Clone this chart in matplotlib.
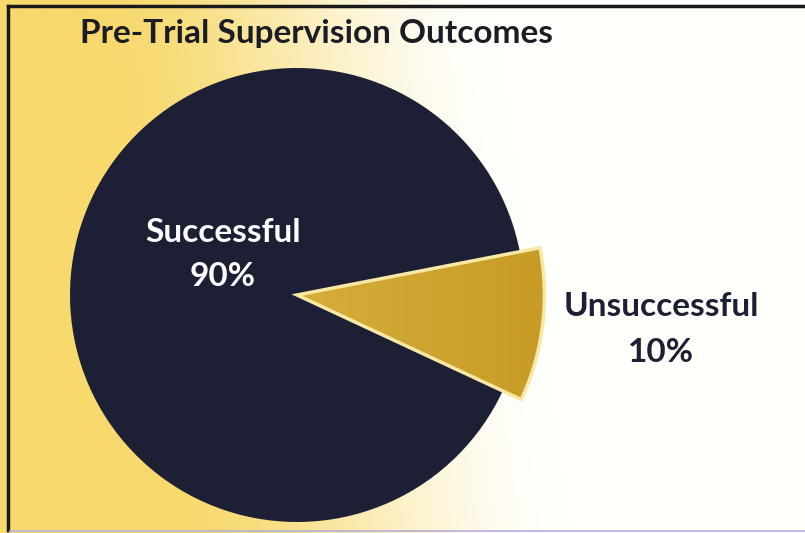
import numpy as np
import matplotlib.pyplot as plt

labels = ['Successful', 'Unsuccessful']
shares = [90, 10]
colors = ['#1d2034', '#cfa532']

W, H = 805, 533
fig = plt.figure(figsize=(W / 100, H / 100), dpi=100)
ax = fig.add_axes([0, 0, 1, 1])

# background: yellow on the left fading to white on the right
px, py = np.meshgrid(np.arange(W), np.arange(H))
u = px + 0.15 * (H - py)
f = np.clip((u - 170) / 400, 0, 1)
f = (f * f * (3 - 2 * f))[..., None]
yellow = np.array([247, 217, 110]) / 255
white = np.array([255, 255, 252]) / 255
bg = yellow * (1 - f) + white * f
ax.imshow(bg, extent=(0, W, 0, H), origin='upper', zorder=0, aspect='auto')

# frame lines (scan border)
ax.plot([8, 8], [3, H - 6], color='#1a1a1a', lw=2.5, zorder=5)
ax.plot([8, W], [H - 6, H - 6], color='#1a1a1a', lw=2.5, zorder=5)
ax.plot([10, W], [2, 2], color='#b4b0d8', lw=1.2, zorder=5)

cx, cy, r = 297, H - 295, 227
wedges, _ = ax.pie(shares, colors=colors, startangle=11, counterclock=True,
                   center=(cx, cy), radius=r, frame=True)
wedges[0].set_zorder(2)
gold = wedges[1]
gold.set_radius(r * 1.09)
gold.set_facecolor('none')
gold.set_edgecolor('#f7e8a6')
gold.set_linewidth(2.5)
gold.set_zorder(4)

# gold wedge shading: a touch lighter near the centre, deeper at the rim
gx, gy = np.meshgrid(np.linspace(0, 1, 200), np.linspace(0, 1, 200))
light = np.array([214, 174, 58]) / 255
deep = np.array([199, 155, 38]) / 255
gimg = light * (1 - gx[..., None]) + deep * gx[..., None]
im = ax.imshow(gimg, extent=(cx, cx + r * 1.1, cy - r * 0.5, cy + r * 0.3),
               origin='upper', zorder=3, aspect='auto')
im.set_clip_path(gold)

ax.set_xlim(0, W)
ax.set_ylim(0, H)
ax.set_axis_off()

font = 'Lato'
ax.text(80, H - 33, 'Pre-Trial Supervision Outcomes', fontsize=24, fontweight='bold',
        family=font, color='#1c1c24', ha='left', va='center', zorder=6)

ax.text(223, H - 233, labels[0], fontsize=24, fontweight='bold', family=font,
        color='white', ha='center', va='center', zorder=6)
ax.text(223, H - 277, f'{shares[0]}%', fontsize=24, fontweight='bold', family=font,
        color='white', ha='center', va='center', zorder=6)
ax.text(661, H - 306, labels[1], fontsize=24, fontweight='bold', family=font,
        color='#1d2034', ha='center', va='center', zorder=6)
ax.text(661, H - 352, f'{shares[1]}%', fontsize=24, fontweight='bold', family=font,
        color='#1d2034', ha='center', va='center', zorder=6)

fig.savefig('out.png', dpi=100)
